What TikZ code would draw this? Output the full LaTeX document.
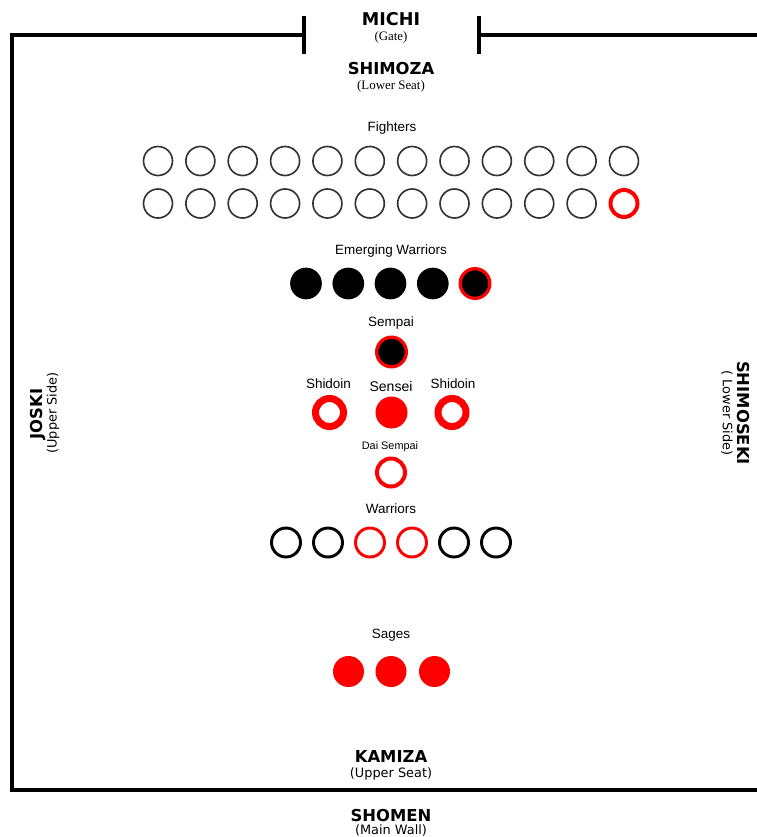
\documentclass[tikz,border=0pt]{standalone}
\usepackage{fontspec}
\setmainfont{Liberation Sans}
\newfontfamily\headfont{DejaVu Sans}
\newfontfamily\notefont{Liberation Serif}
\usetikzlibrary{positioning}

\begin{document}
\begin{tikzpicture}[
  x=0.03cm, y=-0.03cm,
  wall/.style={line width=3.6pt, black},
  head/.style={font=\headfont\bfseries\fontsize{14}{16}\selectfont, inner sep=0pt},
  sub/.style={font=\headfont\fontsize{11}{13}\selectfont, inner sep=0pt},
  subserif/.style={font=\notefont\fontsize{11}{13}\selectfont, inner sep=0pt},
  grp/.style={font=\fontsize{11.5}{13}\selectfont, inner sep=0pt},
  seat/.style={circle, inner sep=0pt},
  open/.style={seat, minimum size=0.87cm, draw=black!80, line width=1.4pt},
  openred/.style={seat, minimum size=0.81cm, draw=red, line width=3.4pt},
  ring/.style={seat, minimum size=0.87cm, draw=black, line width=2.5pt},
  ringred/.style={ring, draw=red},
  thick ring/.style={seat, minimum size=0.84cm, draw=red, line width=6pt},
  dot/.style={seat, minimum size=0.95cm, fill=black},
  dotred/.style={seat, minimum size=0.89cm, fill=black, draw=red, line width=2.8pt},
  redfill/.style={seat, minimum size=0.96cm, fill=red}
]
\useasboundingbox (0,0) rectangle (757,837);

% walls
\draw[wall] (304,35) -- (12,35) -- (12,790) -- (757,790);
\draw[wall] (479,35) -- (757,35);
\draw[wall] (304,16) -- (304,54);
\draw[wall] (479,16) -- (479,54);

% sides of the dojo
\node[head, font=\headfont\bfseries\fontsize{15}{17}\selectfont] (michi) at (391,19.5) {MICHI};
\node[subserif, below=0.15cm of michi] (gate) {(Gate)};
\node[head] (shimoza) at (391,69) {SHIMOZA};
\node[subserif, below=0.15cm of shimoza] (lowerseat) {(Lower Seat)};
\node[head] (kamiza) at (391,757) {KAMIZA};
\node[sub, below=0.12cm of kamiza] (upperseat) {(Upper Seat)};
\node[head] (shomen) at (391,816) {SHOMEN};
\node[sub, below=0.06cm of shomen] (mainwall) {(Main Wall)};
\node[head, rotate=90] (joski) at (38,414) {JOSKI};
\node[sub, rotate=90] (upperside) at (53,413) {(Upper Side)};
\node[head, rotate=-90] (shimoseki) at (743.5,413) {SHIMOSEKI};
\node[sub, rotate=-90] (lowerside) at (727,413) {( Lower Side)};

% fighters
\node[grp] (fighters) at (392,128) {Fighters};
\foreach \i in {0,...,11} {
  \node[open] (fa\i) at (158+42.36*\i,161) {};
}
\foreach \i in {0,...,10} {
  \node[open] (fb\i) at (158+42.36*\i,203.5) {};
}
\node[openred] (fb11) at (624,203.5) {};

% emerging warriors
\node[grp] (emerging) at (391,251.5) {Emerging Warriors};
\node[dot] (em1) at (306,283.5) {};
\node[dot] (em2) at (348.3,283.5) {};
\node[dot] (em3) at (390.5,283.5) {};
\node[dot] (em4) at (432.8,283.5) {};
\node[dotred] (em5) at (475,283.5) {};

% sempai
\node[grp] (sempailabel) at (391,323.5) {Sempai};
\node[dotred] (sempai) at (391.5,352) {};

% sensei and shidoin
\node[grp] (shidoinLlabel) at (328.5,384) {Shidoin};
\node[grp, font=\fontsize{12}{13}\selectfont] (senseilabel) at (391,386) {Sensei};
\node[grp] (shidoinRlabel) at (453,384) {Shidoin};
\node[thick ring] (shidoinL) at (329.5,412.5) {};
\node[redfill] (sensei) at (391.5,412.5) {};
\node[thick ring] (shidoinR) at (452,412.5) {};

% dai sempai
\node[grp, font=\fontsize{9.3}{11}\selectfont] (dailabel) at (390,447) {Dai Sempai};
\node[openred, minimum size=0.84cm] (daisempai) at (391,472.5) {};

% warriors
\node[grp] (warriors) at (391,509) {Warriors};
\node[ring] (war1) at (286,542.5) {};
\node[ring] (war2) at (328,542.5) {};
\node[ringred] (war3) at (370,542.5) {};
\node[ringred] (war4) at (412,542.5) {};
\node[ring] (war5) at (454,542.5) {};
\node[ring] (war6) at (496,542.5) {};

% sages
\node[grp] (sages) at (391,635) {Sages};
\node[redfill, minimum size=0.93cm] (sage1) at (348.5,671.5) {};
\node[redfill, minimum size=0.93cm] (sage2) at (391,671.5) {};
\node[redfill, minimum size=0.93cm] (sage3) at (434.5,671.5) {};

\end{tikzpicture}
\end{document}
